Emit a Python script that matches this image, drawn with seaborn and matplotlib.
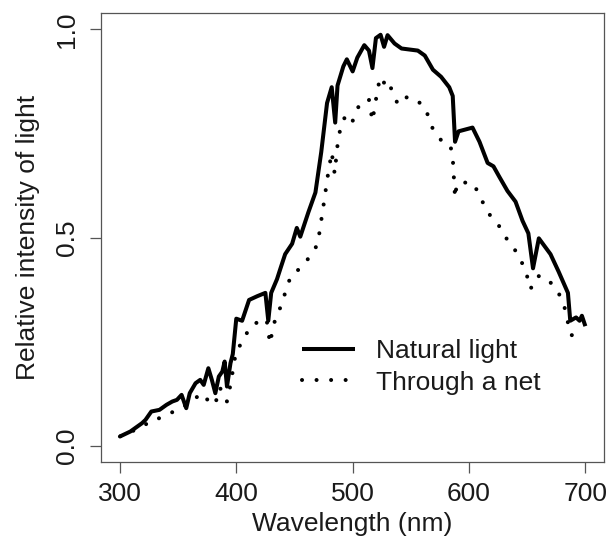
import matplotlib
matplotlib.use("Agg")
import matplotlib.pyplot as plt
import seaborn as sns
import pandas as pd

# Natural light spectrum (wavelength nm, relative intensity)
wl_natural = [300, 309, 319, 322, 327, 334, 340, 345, 349, 353,
              357, 360, 365, 369, 372, 376, 379, 382, 385, 388,
              390, 392, 395, 397, 400, 405, 411, 418, 425, 427.5,
              430, 435, 438, 442, 448, 452, 455, 462, 468, 473,
              478, 482, 485, 487, 492, 495, 500, 504, 510, 514,
              517, 520, 524, 527, 530, 536, 542, 556, 562, 569,
              576, 583, 586, 588, 591, 603, 609, 616, 621, 626,
              633, 640, 646, 651, 655, 660, 670, 677, 685, 687,
              692, 695, 697, 700]
val_natural = [0.022, 0.034, 0.054, 0.062, 0.082, 0.086, 0.098, 0.106, 0.110, 0.122,
               0.090, 0.126, 0.150, 0.158, 0.146, 0.186, 0.158, 0.126, 0.166, 0.178,
               0.202, 0.142, 0.198, 0.220, 0.305, 0.300, 0.350, 0.359, 0.367, 0.300,
               0.367, 0.400, 0.426, 0.460, 0.485, 0.523, 0.502, 0.561, 0.608, 0.705,
               0.823, 0.861, 0.776, 0.865, 0.911, 0.928, 0.899, 0.932, 0.962, 0.949,
               0.907, 0.979, 0.987, 0.958, 0.986, 0.966, 0.954, 0.949, 0.937, 0.903,
               0.886, 0.861, 0.840, 0.730, 0.755, 0.764, 0.730, 0.679, 0.671, 0.646,
               0.612, 0.586, 0.540, 0.510, 0.426, 0.498, 0.460, 0.418, 0.367, 0.300,
               0.308, 0.300, 0.312, 0.287]

# Light through a net
wl_net = [300, 310, 320, 327, 334, 343, 350, 357, 365, 370,
          375, 382, 385, 388, 392, 395, 400, 406, 411, 420,
          426, 429, 432, 438, 447, 455, 465, 470, 475, 478.5,
          482, 484.5, 487, 490, 495, 500, 505, 510, 514, 517,
          522, 525, 529, 532, 539, 547, 556, 562, 569, 577,
          584, 586, 588, 589.5, 594, 604, 613, 619, 626, 633,
          640, 648, 653, 656, 661, 670, 677, 683, 687, 697,
          700]
val_net = [0.022, 0.034, 0.046, 0.062, 0.066, 0.078, 0.086, 0.098, 0.114, 0.126,
           0.111, 0.098, 0.139, 0.134, 0.106, 0.146, 0.230, 0.250, 0.283, 0.300,
           0.304, 0.245, 0.291, 0.333, 0.409, 0.426, 0.460, 0.485, 0.578, 0.646,
           0.705, 0.654, 0.722, 0.772, 0.797, 0.780, 0.814, 0.831, 0.831, 0.780,
           0.865, 0.886, 0.857, 0.865, 0.819, 0.838, 0.827, 0.814, 0.760, 0.730,
           0.721, 0.692, 0.595, 0.629, 0.633, 0.629, 0.578, 0.549, 0.527, 0.494,
           0.468, 0.426, 0.376, 0.400, 0.409, 0.392, 0.367, 0.325, 0.266, 0.262,
           0.257]

series_labels = ["Natural light", "Through a net"]
x_ticks = [300, 400, 500, 600, 700]
y_ticks = [0.0, 0.5, 1.0]
y_tick_labels = ["0.0", "0.5", "1.0"]

sns.set_theme(style="white")
plt.rcParams["font.family"] = ["Liberation Sans", "DejaVu Sans"]

df_nat = pd.DataFrame({"wl": wl_natural, "val": val_natural})
df_net = pd.DataFrame({"wl": wl_net, "val": val_net})

fig = plt.figure(figsize=(6.11, 5.53), dpi=100)
ax = fig.add_axes([101.3 / 611, 1 - 462.3 / 553, (604 - 101.3) / 611, (462.3 - 12.7) / 553])

sns.lineplot(data=df_nat, x="wl", y="val", ax=ax, color="black", lw=2.9,
             label=series_labels[0], sort=False, estimator=None)
sns.lineplot(data=df_net, x="wl", y="val", ax=ax, color="black", lw=2.9,
             label=series_labels[1], sort=False, estimator=None,
             linestyle=(0, (0.01, 3.6)), dash_capstyle="round")
for ln in ax.get_lines():
    ln.set_solid_capstyle("butt")
ax.get_lines()[1].set_dash_capstyle("round")

ax.set_xlim(284, 716)
ax.set_ylim(-0.04, 1.04)
ax.set_xticks(x_ticks)
ax.set_yticks(y_ticks)
ax.set_yticklabels(y_tick_labels)

tc = "#1a1a1a"
ax.tick_params(axis="both", which="major", direction="out", length=8.2, width=0.9,
               color="#555555", labelsize=19, labelcolor=tc, left=True, bottom=True)
ax.tick_params(axis="x", pad=6)
ax.tick_params(axis="y", pad=8)
plt.setp(ax.get_yticklabels(), rotation=90, va="center")

for sp in ax.spines.values():
    sp.set_visible(True)
    sp.set_color("#555555")
    sp.set_linewidth(0.9)

ax.set_xlabel("Wavelength (nm)", fontsize=19, color=tc, labelpad=4)
ax.set_ylabel("Relative intensity of light", fontsize=19, color=tc, labelpad=11)

leg = ax.legend(frameon=False, loc="center left",
                bbox_to_anchor=((302 - 101.3) / 502.7, (462.3 - 367) / 449.6),
                fontsize=19, handlelength=2.0, handletextpad=0.8,
                labelspacing=0.28, borderpad=0, borderaxespad=0)
for t in leg.get_texts():
    t.set_color(tc)
for h in leg.get_lines():
    h.set_linewidth(2.9)

fig.savefig("out.png", dpi=100)
